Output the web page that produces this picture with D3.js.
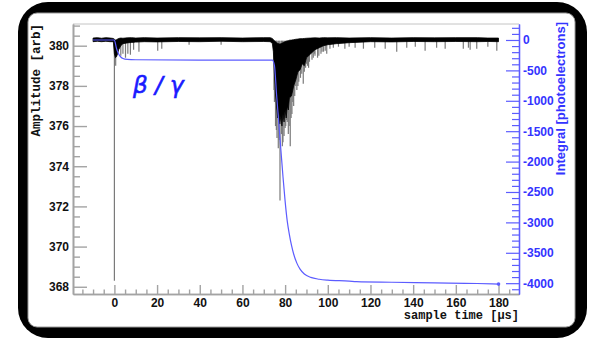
<!DOCTYPE html>
<html>
<head>
<meta charset="utf-8">
<script src="https://cdn.jsdelivr.net/npm/d3@7"></script>
<style>
  html, body { margin: 0; padding: 0; background: #fff; }
  svg { display: block; }
</style>
</head>
<body>
<div id="chart"></div>
<script>
// ---- data ----
// envelope of the sampled trace: time [µs], upper and lower edge [arb]
const envT  = [-10, -8, -6, -4, -2, -0.5, 0, 0.5, 1, 1.5, 2, 3, 4, 6, 8, 10, 14, 20, 30, 40, 50, 60, 70, 73, 74, 74.5, 75, 75.5, 76, 76.5, 77, 77.5, 78, 78.5, 79, 79.5, 80, 80.5, 81, 81.5, 82, 83, 84, 85, 86, 87, 88, 89, 90, 92, 94, 96, 98, 100, 104, 110, 120, 130, 140, 150, 160, 170, 175, 180];
const envHi = [380.38, 380.4, 380.37, 380.4, 380.38, 380.36, 380.32, 380.28, 380.3, 380.33, 380.36, 380.38, 380.37, 380.39, 380.4, 380.38, 380.4, 380.38, 380.4, 380.39, 380.4, 380.38, 380.4, 380.4, 380.36, 380.3, 380.25, 380.2, 380.15, 380.12, 380.1, 380.08, 380.1, 380.12, 380.15, 380.18, 380.2, 380.22, 380.24, 380.25, 380.27, 380.28, 380.3, 380.32, 380.33, 380.35, 380.35, 380.36, 380.37, 380.38, 380.39, 380.38, 380.4, 380.39, 380.4, 380.38, 380.4, 380.38, 380.4, 380.39, 380.4, 380.4, 380.38, 380.38];
const envLo = [380.2, 380.22, 380.2, 380.22, 380.2, 380.2, 379.6, 379.4, 379.45, 379.6, 379.8, 380.0, 380.1, 380.14, 380.16, 380.18, 380.2, 380.19, 380.21, 380.2, 380.22, 380.2, 380.21, 380.2, 380.12, 379.7, 378.6, 377.6, 377.0, 376.4, 376.8, 376.1, 376.5, 376.0, 376.6, 376.2, 376.8, 376.4, 377.0, 376.8, 377.4, 377.5, 378.0, 378.3, 378.7, 378.8, 379.1, 379.0, 379.4, 379.6, 379.8, 379.9, 380.0, 380.05, 380.1, 380.15, 380.2, 380.19, 380.21, 380.2, 380.21, 380.2, 380.21, 380.2];

// single-sample downward spikes: time [µs], lowest value [arb]
const spikeT   = [0, 0.6, 3.0, 4.0, 5.2, 6.3, 7.5, 9, 11.5, 20.3, 22.2, 35, 50,
                  74.8, 75.0, 75.5, 75.9, 76.2, 76.8, 77.2, 77.6, 78.3, 78.7, 79.0, 79.5, 80.0, 80.3, 80.7, 81.0, 81.5, 81.9, 82.4, 82.8, 83.2, 83.6, 84.0, 84.5, 85.0, 85.5, 86.0, 86.4, 87.2, 87.8, 88.5, 89.0, 89.6, 90.0, 90.5, 91.0, 91.4, 92.6, 93.2, 93.8, 94.0, 95.2, 95.8, 96.8, 97.3, 98.0, 98.8, 99.5,
                  101, 102.6, 105, 108, 110, 112.8, 116.7, 122, 126.9, 132.3, 137, 141, 145.6, 151, 155, 163.5, 165.9, 166.7, 169.8, 175, 179.2];
const spikeMin = [368.3, 379.0, 379.5, 379.6, 379.4, 379.6, 379.55, 379.8, 379.7, 379.75, 379.85, 380.05, 380.05,
                  377.8, 377.2, 376.0, 375.8, 375.4, 374.9, 375.3, 372.3, 375.6, 375.0, 375.2, 375.5, 375.9, 376.0, 376.3, 376.2, 375.6, 376.0, 375.0, 376.4, 376.6, 377.2, 377.0, 377.5, 378.0, 377.8, 378.0, 378.2, 378.4, 378.6, 378.1, 378.7, 378.9, 379.1, 379.0, 378.9, 379.2, 379.3, 379.4, 379.6, 379.5, 379.4, 379.5, 379.6, 379.7, 379.7, 379.75, 379.6,
                  379.85, 379.9, 379.95, 379.85, 379.95, 379.9, 379.85, 379.9, 379.85, 379.7, 379.9, 379.95, 379.75, 379.9, 379.85, 379.85, 379.9, 379.8, 379.85, 379.95, 379.75];

// running integral: time [µs], photoelectrons
const intT = [-10, 0, 0.5, 1, 2, 3, 4, 6, 10, 40, 74, 75, 76, 77, 78, 79, 80, 81, 82, 83, 84, 85.5, 87, 89, 92, 96, 100, 110, 113.5, 130, 150, 170, 180];
const intV = [0, 0, -60, -140, -230, -280, -305, -320, -325, -330, -330, -420, -900, -1350, -1800, -2250, -2650, -2980, -3200, -3380, -3520, -3670, -3770, -3850, -3905, -3935, -3950, -3965, -3975, -3985, -3995, -4005, -4015];

// axis ticks
const xMajor = [0, 20, 40, 60, 80, 100, 120, 140, 160, 180];
const yLMajor = [368, 370, 372, 374, 376, 378, 380];
const yRMajor = [-4000, -3500, -3000, -2500, -2000, -1500, -1000, -500, 0];

// ---- layout ----
const W = 589, H = 339;
const pLeft = 73, pRight = 519, pTop = 24, pBottom = 294;
const axisGray = "#a3a3a3";
const blueLine = "#5c5cff";
const blueText = "#3434ff";

const svg = d3.select("#chart").append("svg")
  .attr("width", W)
  .attr("height", H);

// rounded black frame
svg.append("rect")
  .attr("x", 18).attr("y", 2).attr("width", 569).attr("height", 336)
  .attr("rx", 30).attr("fill", "#000");
svg.append("rect")
  .attr("x", 28).attr("y", 13).attr("width", 547).attr("height", 314)
  .attr("rx", 9).attr("fill", "#fff").attr("stroke", "#9a9a9a").attr("stroke-width", 1);

// scales
const x = d3.scaleLinear().domain([-19.4, 189.6]).range([pLeft, pRight]);
const yL = d3.scaleLinear().domain([367.64, 381.08]).range([pBottom, pTop]);
const yR = d3.scaleLinear().domain([-4178, 263]).range([pBottom, pTop]);

// minor tick lists
const xMinor = d3.range(-15, 186, 5).filter(v => xMajor.indexOf(v) < 0);
const yLMinor = d3.range(368, 381.01, 0.5).filter(v => yLMajor.indexOf(v) < 0);
const yRMinor = d3.range(-4100, 201, 100).filter(v => yRMajor.indexOf(v) < 0);

// top frame line
svg.append("line")
  .attr("x1", pLeft).attr("x2", pRight).attr("y1", pTop).attr("y2", pTop)
  .attr("stroke", "#c4c4c4").attr("stroke-width", 1);

// bottom axis
const gx = svg.append("g").attr("transform", "translate(0," + pBottom + ")");
gx.call(d3.axisBottom(x).tickValues(xMinor).tickFormat("").tickSizeInner(-4.5).tickSizeOuter(0));
gx.append("g").call(d3.axisBottom(x).tickValues(xMajor).tickSizeInner(-9).tickSizeOuter(0).tickPadding(4.5));

// left axis
const gyl = svg.append("g").attr("transform", "translate(" + pLeft + ",0)");
gyl.call(d3.axisLeft(yL).tickValues(yLMinor).tickFormat("").tickSizeInner(-7).tickSizeOuter(0));
gyl.append("g").call(d3.axisLeft(yL).tickValues(yLMajor).tickSizeInner(-14).tickSizeOuter(0).tickPadding(4));

[gx, gyl].forEach(g => {
  g.selectAll(".domain").attr("stroke", axisGray).attr("stroke-width", 1.6);
  g.selectAll(".tick line").attr("stroke", axisGray).attr("stroke-width", 1.4);
  g.selectAll("text")
    .attr("fill", "#111")
    .style("font-family", "'Liberation Sans', Arial, sans-serif")
    .style("font-weight", "bold")
    .style("font-size", "12px");
});

// right axis (blue)
const gyr = svg.append("g").attr("transform", "translate(" + pRight + ",0)");
gyr.call(d3.axisRight(yR).tickValues(yRMinor).tickFormat("").tickSizeInner(-7).tickSizeOuter(0));
gyr.append("g").call(d3.axisRight(yR).tickValues(yRMajor).tickFormat(d => String(d))
  .tickSizeInner(-13).tickSizeOuter(0).tickPadding(4));
gyr.selectAll(".domain").attr("stroke", blueLine).attr("stroke-width", 1.3);
gyr.selectAll(".tick line").attr("stroke", blueLine).attr("stroke-width", 1.2);
gyr.selectAll("text")
  .attr("fill", blueText)
  .style("font-family", "'Liberation Sans', Arial, sans-serif")
  .style("font-weight", "bold")
  .style("font-size", "12px");

// axis titles
svg.append("text")
  .attr("transform", "translate(40," + pTop + ") rotate(-90)")
  .attr("text-anchor", "end")
  .style("font-family", "'Liberation Mono', 'Courier New', monospace")
  .style("font-weight", "bold")
  .style("font-size", "12.5px")
  .attr("fill", "#111")
  .text("Amplitude [arb]");

svg.append("text")
  .attr("x", pRight).attr("y", 319)
  .attr("text-anchor", "end")
  .style("font-family", "'Liberation Mono', 'Courier New', monospace")
  .style("font-weight", "bold")
  .style("font-size", "12px")
  .attr("fill", "#111")
  .text("sample time [µs]");

svg.append("text")
  .attr("transform", "translate(565," + (pTop - 2) + ") rotate(-90)")
  .attr("text-anchor", "end")
  .style("font-family", "'Liberation Sans', Arial, sans-serif")
  .style("font-weight", "bold")
  .style("font-size", "13px")
  .attr("fill", blueText)
  .text("Integral [photoelectrons]");

// trace: spikes first, then the dense envelope
const spikes = spikeT.map((t, i) => ({ t: t, v: spikeMin[i] }));
svg.append("g").selectAll("line")
  .data(spikes)
  .join("line")
  .attr("x1", d => x(d.t)).attr("x2", d => x(d.t))
  .attr("y1", yL(380.25)).attr("y2", d => yL(d.v))
  .attr("stroke", "#7a7a7a")
  .attr("stroke-width", 1.2);

const env = envT.map((t, i) => ({ t: t, hi: envHi[i], lo: envLo[i] }));
const band = d3.area()
  .x(d => x(d.t))
  .y0(d => yL(d.lo))
  .y1(d => yL(d.hi));
svg.append("path")
  .datum(env)
  .attr("d", band)
  .attr("fill", "#000")
  .attr("stroke", "#000")
  .attr("stroke-width", 0.8);

// integral curve
const integ = intT.map((t, i) => ({ t: t, v: intV[i] }));
const line = d3.line()
  .curve(d3.curveMonotoneX)
  .x(d => x(d.t))
  .y(d => yR(d.v));
svg.append("path")
  .datum(integ)
  .attr("d", line)
  .attr("fill", "none")
  .attr("stroke", blueLine)
  .attr("stroke-width", 1.2);

const last = integ[integ.length - 1];
svg.append("circle")
  .attr("cx", x(last.t)).attr("cy", yR(last.v))
  .attr("r", 1.8)
  .attr("fill", blueLine);

// annotation
svg.append("text")
  .attr("x", 133).attr("y", 93)
  .style("font-family", "'DejaVu Sans', sans-serif")
  .style("font-style", "italic")
  .style("font-size", "23px")
  .attr("fill", "#1a1aff")
  .attr("stroke", "#1a1aff")
  .attr("stroke-width", 0.6)
  .text("β / γ");
</script>
</body>
</html>
